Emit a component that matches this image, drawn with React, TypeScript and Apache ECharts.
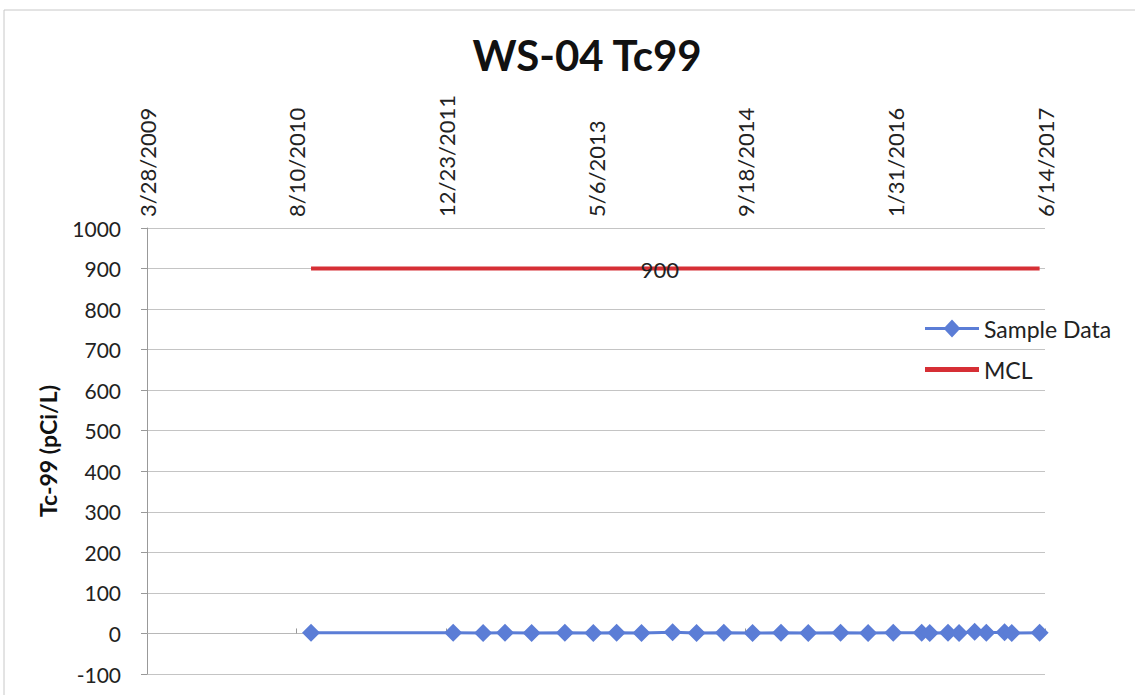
import React, { useEffect, useRef } from "react";
import * as echarts from "echarts";

const title = "WS-04 Tc99";
const yAxisName = "Tc-99 (pCi/L)";
const axisStart = "3/28/2009";
const axisEnd = "6/14/2017";
const tickDays = 500;

const sampleDates = [
  "9/27/2010", "1/15/2012", "4/24/2012", "7/6/2012", "10/3/2012", "1/22/2013",
  "4/27/2013", "7/14/2013", "10/5/2013", "1/17/2014", "4/7/2014", "7/7/2014",
  "10/11/2014", "1/14/2015", "4/15/2015", "8/1/2015", "11/1/2015", "1/24/2016",
  "4/28/2016", "5/25/2016", "7/25/2016", "8/31/2016", "10/22/2016", "11/30/2016",
  "1/30/2017", "2/23/2017", "5/27/2017",
];
const sampleValues = [
  2, 2, 1, 2, 1, 2, 1, 2, 1, 3, 1, 2, 1, 2, 1, 2, 1, 2, 2, 1, 2, 1, 4, 2, 3, 1, 2,
];

const mclDates = ["9/27/2010", "5/27/2017"];
const mclValues = [900, 900];
const mclLabelDate = "12/5/2013";
const mclLabelValue = 900;

const DAY = 86400000;
function parse(d: string): number {
  const [m, dd, y] = d.split("/").map(Number);
  return Date.UTC(y, m - 1, dd);
}
const origin = parse(axisStart);
const toDay = (d: string) => Math.round((parse(d) - origin) / DAY);
const fmt = (days: number) => {
  const dt = new Date(origin + days * DAY);
  return `${dt.getUTCMonth() + 1}/${dt.getUTCDate()}/${dt.getUTCFullYear()}`;
};

const FONT = "Lato, 'Open Sans', sans-serif";

export default function App() {
  const ref = useRef<HTMLDivElement>(null);
  useEffect(() => {
    if (!ref.current) return;
    const chart = echarts.init(ref.current, null, { renderer: "svg" });
    const sampleData = sampleDates.map((d, i) => [toDay(d), sampleValues[i]]);
    const mclData = mclDates.map((d, i) => [toDay(d), mclValues[i]]);
    chart.setOption({
      animation: false,
      backgroundColor: "#fff",
      textStyle: { fontFamily: FONT },
      title: {
        text: title,
        left: 582,
        top: 29,
        textAlign: "center",
        textStyle: { fontSize: 42, fontWeight: "bold", color: "#111", fontFamily: FONT },
      },
      graphic: [
        {
          type: "rect",
          shape: { x: 4, y: 10, width: 1140, height: 700 },
          style: { fill: "none", stroke: "#c8c8c8", lineWidth: 1 },
          silent: true,
        },
      ],
      legend: {
        orient: "vertical",
        left: 920,
        top: 312,
        itemWidth: 54,
        itemHeight: 18,
        itemGap: 18,
        textStyle: { fontSize: 23, color: "#222", fontFamily: FONT },
        data: [
          {
            name: "Sample Data",
            icon: "path://M0,7.5h20L27,0L34,7.5h20v3h-20L27,18L20,10.5h-20z",
          },
          { name: "MCL", icon: "path://M0,0h54v5h-54z" },
        ],
      },
      grid: { left: 147, top: 228, right: 90, bottom: 21 },
      xAxis: {
        type: "value",
        position: "top",
        min: 0,
        max: toDay(axisEnd),
        interval: tickDays,
        axisLine: { show: true, lineStyle: { color: "#b8b8b8" } },
        axisTick: { show: true, length: 5, lineStyle: { color: "#999" } },
        splitLine: { show: false },
        axisLabel: {
          rotate: 90,
          margin: 11,
          fontSize: 22,
          color: "#222",
          fontFamily: FONT,
          formatter: (v: number) => fmt(v),
        },
      },
      yAxis: {
        type: "value",
        min: -100,
        max: 1000,
        interval: 100,
        name: yAxisName,
        nameLocation: "middle",
        nameGap: 88,
        nameTextStyle: { fontSize: 23, fontWeight: "bold", color: "#111", fontFamily: FONT },
        axisLine: { show: true, lineStyle: { color: "#999" } },
        axisTick: { show: true, length: 6, lineStyle: { color: "#999" } },
        splitLine: { show: true, lineStyle: { color: "#c4c4c4", width: 1 } },
        axisLabel: {
          fontSize: 21,
          color: "#222",
          margin: 26,
          fontFamily: FONT,
          formatter: (v: number) => String(v),
        },
      },
      series: [
        {
          name: "Sample Data",
          type: "line",
          data: sampleData,
          symbol: "diamond",
          symbolSize: 18,
          itemStyle: { color: "#5b7dd6" },
          lineStyle: { color: "#5b7dd6", width: 3 },
          z: 3,
        },
        {
          name: "MCL",
          type: "line",
          data: mclData,
          symbol: "none",
          itemStyle: { color: "#d62f35" },
          lineStyle: { color: "#d62f35", width: 4 },
          z: 2,
          markPoint: {
            symbol: "circle",
            symbolSize: 0,
            silent: true,
            data: [
              {
                coord: [toDay(mclLabelDate), mclLabelValue],
                label: {
                  show: true,
                  formatter: String(mclLabelValue),
                  position: "inside",
                  offset: [0, 1],
                  color: "#222",
                  fontSize: 22,
                  fontFamily: FONT,
                },
              },
            ],
          },
        },
      ],
    });
    return () => chart.dispose();
  }, []);
  return (
    <div
      ref={ref}
      style={{ position: "fixed", left: 0, top: 0, width: 1135, height: 695 }}
    />
  );
}
